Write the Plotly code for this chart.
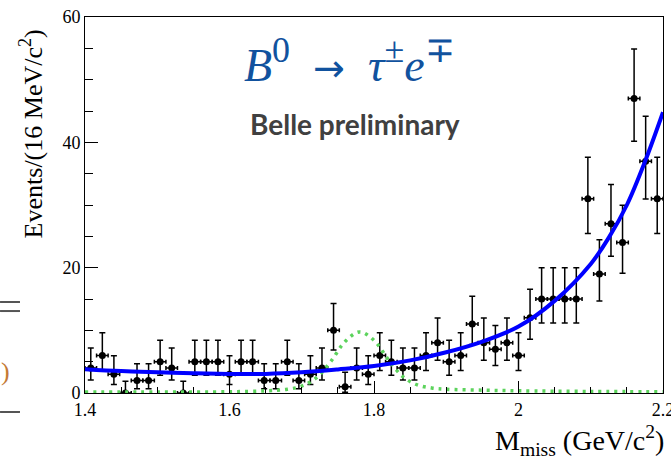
import numpy as np
import plotly.graph_objects as go

# Histogram binning: 50 bins of 16 MeV/c^2 from 1.4 to 2.2 GeV/c^2
bin_lo, bin_hi, bin_width = 1.4, 2.2, 0.016
bin_centers = np.round(np.arange(bin_lo + bin_width / 2, bin_hi, bin_width), 3)

# Observed events per bin
counts = [4, 6, 3, 0, 2, 2, 5, 4, 0, 5,
          5, 5, 3, 5, 5, 2, 2, 5, 2, 3,
          4, 10, 1, 4, 3, 6, 5, 4, 4, 6,
          8, 5, 6, 11, 8, 7, 8, 6, 12, 15,
          15, 15, 15, 31, 19, 27, 24, 47, 37, 31]

# Total fit curve (signal + background)
fit_x = [1.40, 1.45, 1.50, 1.55, 1.60, 1.65, 1.70, 1.75, 1.80, 1.85,
         1.90, 1.95, 2.00, 2.05, 2.10, 2.125, 2.15, 2.175, 2.20]
fit_y = [3.8, 3.5, 3.3, 3.15, 3.05, 3.05, 3.3, 3.75, 4.3, 5.2,
         6.5, 8.2, 10.6, 14.7, 20.6, 24.8, 30.0, 36.9, 44.8]

# Signal component
sig_x = [1.40, 1.50, 1.60, 1.65, 1.68, 1.70, 1.72, 1.74, 1.76, 1.78,
         1.80, 1.82, 1.84, 1.86, 1.88, 1.90, 1.95, 2.00, 2.10, 2.20]
sig_y = [0.15, 0.15, 0.2, 0.35, 0.6, 1.1, 2.4, 5.0, 8.2, 9.75,
         8.4, 5.3, 2.6, 1.3, 0.8, 0.6, 0.45, 0.35, 0.25, 0.2]

# Tick positions and labels on the mass axis
x_tickvals = [1.4, 1.6, 1.8, 2.0, 2.19999]
x_ticktext = ["1.4", "1.6", "1.8", "2", "2.2"]
y_tickvals = [0, 20, 40, 60]

# Asymmetric Poisson uncertainties on the counts
err_hi = [float(np.sqrt(n + 0.75) + 1.0) for n in counts]
err_lo = [float(np.sqrt(n - 0.25)) if n > 0 else 0.0 for n in counts]

SERIF = "Liberation Serif"

fig = go.Figure()

fig.add_trace(go.Scatter(
    x=bin_centers, y=counts, mode="markers",
    marker=dict(color="black", size=7, symbol="circle"),
    error_y=dict(type="data", symmetric=False, array=err_hi, arrayminus=err_lo,
                 color="black", thickness=1.5, width=3),
    error_x=dict(type="constant", value=bin_width / 2,
                 color="black", thickness=1.5, width=2),
))

fig.add_trace(go.Scatter(
    x=sig_x, y=sig_y, mode="lines",
    line=dict(color="#5cd35c", width=3.5, dash="3px,5px", shape="spline", smoothing=1.0),
))

fig.add_trace(go.Scatter(
    x=fit_x, y=fit_y, mode="lines",
    line=dict(color="#0000ff", width=4, shape="spline", smoothing=1.0),
))

axis_common = dict(
    showline=True, linecolor="black", linewidth=1, mirror=True,
    showgrid=False, zeroline=False, ticks="inside", tickcolor="black",
    tickfont=dict(family=SERIF, size=18, color="black"),
    ticklabeloverflow="allow", automargin=False,
)

fig.update_xaxes(
    range=[bin_lo, bin_hi],
    tickvals=x_tickvals,
    ticktext=x_ticktext,
    ticklen=12,
    minor=dict(ticks="inside", ticklen=6, dtick=0.05, tick0=1.4, tickcolor="black"),
    **axis_common,
)
fig.update_yaxes(
    range=[0, 60],
    tickvals=y_tickvals,
    ticklen=13,
    minor=dict(ticks="inside", ticklen=8, dtick=5, tick0=0, tickcolor="black"),
    **axis_common,
)

sup = '<sup><span style="font-size:36px">{}</span></sup>'
arrow = '<span style="font-family:\'DejaVu Sans\';font-size:38px">→</span>'
title_text = ("<i>B</i>" + sup.format("0") + "&nbsp;&nbsp;" + arrow + "&nbsp;&nbsp;<i>τ</i>"
              + sup.format("±") + "<i>e</i>" + sup.format("∓"))

annotations = [
    dict(text=title_text,
         x=0.458, y=0.885, xref="paper", yref="paper", showarrow=False,
         xanchor="center", yanchor="middle",
         font=dict(family=SERIF, size=46, color="#11529e")),
    dict(text="<b>Belle preliminary</b>",
         x=0.467, y=0.715, xref="paper", yref="paper", showarrow=False,
         xanchor="center", yanchor="middle",
         font=dict(family="Lato", size=28, color="#404040")),
    dict(text="Events/(16 MeV/c<sup>2</sup>)", textangle=-90,
         x=-0.092, y=0.69, xref="paper", yref="paper", showarrow=False,
         xanchor="center", yanchor="middle",
         font=dict(family=SERIF, size=26, color="black")),
    dict(text="M<sub>miss</sub> (GeV/c<sup>2</sup>)",
         x=1.005, y=-0.125, xref="paper", yref="paper", showarrow=False,
         xanchor="right", yanchor="middle",
         font=dict(family=SERIF, size=28, color="black")),
    dict(text=")", x=-0.138, y=0.056, xref="paper", yref="paper", showarrow=False,
         xanchor="center", yanchor="middle",
         font=dict(family=SERIF, size=26, color="#c47a35")),
]

shapes = [
    dict(type="line", xref="paper", yref="paper", x0=-0.147, x1=-0.1125,
         y0=0.242, y1=0.242, line=dict(color="#555555", width=2)),
    dict(type="line", xref="paper", yref="paper", x0=-0.147, x1=-0.1125,
         y0=0.218, y1=0.218, line=dict(color="#555555", width=2)),
    dict(type="line", xref="paper", yref="paper", x0=-0.147, x1=-0.1125,
         y0=-0.0505, y1=-0.0505, line=dict(color="#555555", width=2)),
]

fig.update_layout(
    width=671, height=460,
    margin=dict(l=85, r=8, t=17, b=67, autoexpand=False),
    plot_bgcolor="white", paper_bgcolor="white",
    showlegend=False,
    annotations=annotations,
    shapes=shapes,
)

fig.write_html("out.html")
